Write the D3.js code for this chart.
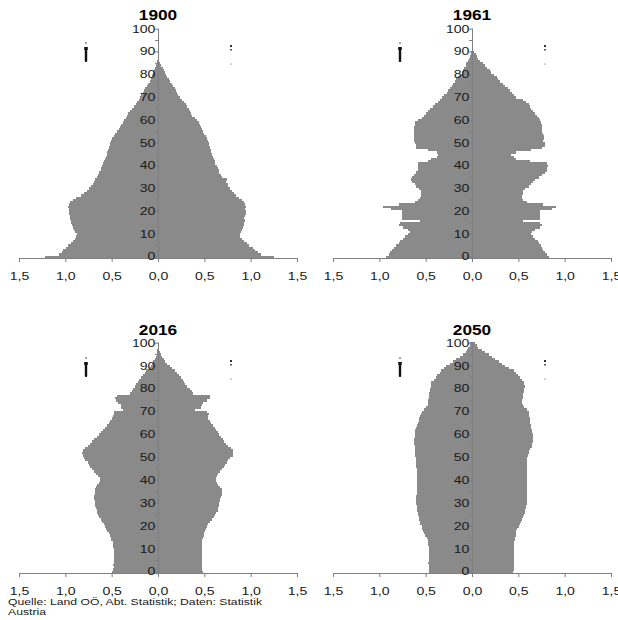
<!DOCTYPE html>
<html lang="de">
<head>
<meta charset="utf-8">
<title>Bevölkerungspyramiden Oberösterreich</title>
<script src="https://d3js.org/d3.v7.min.js"></script>
<style>
  body { margin: 0; background: #fff; }
  svg { display: block; font-family: "Liberation Sans", Arial, sans-serif; }
  .bar { fill: #8a8a8a; shape-rendering: crispEdges; }
  .axis path, .axis line { stroke: #7f7f7f; }
  .axis text { fill: #1a1a1a; font-size: 11px; font-family: "Liberation Sans", Arial, sans-serif; }
  .title { font-size: 15px; font-weight: bold; fill: #000; }
  .source { font-size: 9.6px; fill: #1a1a1a; }
</style>
</head>
<body>
<svg id="chart" width="618" height="620"></svg>
<script>
// Anteil an der Gesamtbevölkerung in %, je Altersjahr 0..100
var years = ["1900", "1961", "2016", "2050"];
var ages = d3.range(0, 101);
var xTicks = [-1.5, -1, -0.5, 0, 0.5, 1, 1.5];
var xTickLabels = ["1,5", "1,0", "0,5", "0,0", "0,5", "1,0", "1,5"];
var yTicks = [0, 5, 10, 15, 20, 25, 30, 35, 40, 45, 50, 55, 60, 65, 70, 75, 80, 85, 90, 95, 100];
var sourceLines = ["Quelle: Land OÖ, Abt. Statistik; Daten: Statistik", "Austria"];

var male1900 = [1.22,1.07,1.04,1.02,0.99,0.97,0.94,0.92,0.90,0.88,
  0.87,0.90,0.91,0.92,0.93,0.94,0.94,0.95,0.95,0.96,
  0.96,0.96,0.97,0.96,0.95,0.92,0.88,0.83,0.80,0.77,
  0.74,0.72,0.70,0.69,0.68,0.66,0.65,0.64,0.62,0.61,
  0.60,0.59,0.58,0.57,0.56,0.55,0.55,0.54,0.53,0.52,
  0.52,0.51,0.50,0.47,0.46,0.44,0.42,0.41,0.40,0.38,
  0.37,0.35,0.33,0.32,0.30,0.28,0.26,0.24,0.23,0.21,
  0.19,0.18,0.16,0.15,0.14,0.12,0.11,0.09,0.08,0.07,
  0.06,0.05,0.04,0.03,0.02,0.015,0.01,0.005,0.003,0.002,
  0.001,0.001,0.001,0.001,0.001,0.001,0.001,0.001,0.001,0.001,0.001];
var female1900 = [1.25,1.11,1.08,1.05,1.02,0.98,0.96,0.93,0.91,0.89,
  0.89,0.90,0.91,0.92,0.93,0.93,0.94,0.93,0.94,0.95,
  0.95,0.94,0.95,0.94,0.93,0.91,0.87,0.84,0.82,0.80,
  0.78,0.76,0.75,0.73,0.74,0.69,0.68,0.66,0.66,0.65,
  0.64,0.62,0.61,0.60,0.59,0.58,0.57,0.57,0.56,0.55,
  0.55,0.54,0.53,0.52,0.50,0.49,0.47,0.46,0.45,0.44,
  0.42,0.40,0.37,0.36,0.35,0.33,0.31,0.30,0.28,0.26,
  0.24,0.22,0.20,0.19,0.18,0.16,0.15,0.13,0.12,0.10,
  0.09,0.075,0.06,0.05,0.03,0.02,0.015,0.01,0.005,0.003,
  0.001,0.001,0.001,0.001,0.001,0.001,0.001,0.001,0.001,0.001,0.001];
var male1961 = [0.93,0.90,0.88,0.86,0.84,0.82,0.79,0.78,0.75,0.72,
  0.69,0.67,0.69,0.74,0.79,0.78,0.56,0.76,0.76,0.76,
  0.76,0.87,0.96,0.79,0.62,0.58,0.56,0.55,0.55,0.55,
  0.57,0.60,0.62,0.65,0.66,0.65,0.63,0.60,0.58,0.58,
  0.58,0.58,0.47,0.44,0.38,0.37,0.38,0.47,0.60,0.60,
  0.62,0.63,0.63,0.63,0.63,0.63,0.63,0.63,0.62,0.62,
  0.58,0.54,0.52,0.50,0.47,0.45,0.42,0.40,0.37,0.35,
  0.32,0.30,0.27,0.26,0.24,0.22,0.20,0.18,0.17,0.15,
  0.13,0.11,0.10,0.09,0.07,0.06,0.04,0.03,0.02,0.015,
  0.008,0.005,0.003,0.002,0.001,0.001,0.001,0.001,0.001,0.001,0.001];
var female1961 = [0.83,0.81,0.79,0.77,0.76,0.74,0.72,0.71,0.68,0.66,
  0.64,0.65,0.68,0.73,0.75,0.73,0.55,0.73,0.73,0.73,
  0.73,0.86,0.91,0.77,0.59,0.55,0.54,0.54,0.55,0.55,
  0.57,0.61,0.64,0.66,0.68,0.72,0.75,0.79,0.81,0.81,
  0.82,0.81,0.63,0.48,0.45,0.42,0.48,0.64,0.75,0.79,
  0.79,0.77,0.78,0.78,0.77,0.76,0.76,0.75,0.75,0.74,
  0.73,0.72,0.70,0.68,0.66,0.64,0.63,0.61,0.58,0.55,
  0.48,0.45,0.43,0.41,0.39,0.36,0.33,0.30,0.28,0.27,
  0.24,0.21,0.19,0.16,0.14,0.12,0.09,0.07,0.05,0.04,
  0.02,0.015,0.01,0.006,0.004,0.002,0.001,0.001,0.001,0.001,0.001];
var male2016 = [0.50,0.49,0.48,0.49,0.48,0.48,0.47,0.47,0.48,0.48,
  0.48,0.49,0.49,0.49,0.51,0.51,0.52,0.53,0.55,0.56,
  0.57,0.58,0.60,0.62,0.64,0.65,0.66,0.66,0.67,0.68,
  0.68,0.68,0.69,0.69,0.68,0.68,0.68,0.67,0.66,0.64,
  0.63,0.63,0.65,0.67,0.69,0.71,0.73,0.75,0.76,0.79,
  0.80,0.81,0.82,0.81,0.79,0.76,0.73,0.71,0.69,0.66,
  0.64,0.61,0.59,0.57,0.55,0.53,0.52,0.50,0.49,0.48,
  0.47,0.38,0.40,0.40,0.43,0.45,0.46,0.44,0.30,0.28,
  0.27,0.25,0.24,0.22,0.20,0.18,0.16,0.14,0.13,0.10,
  0.08,0.065,0.05,0.035,0.025,0.015,0.01,0.006,0.004,0.002,0.001];
var female2016 = [0.49,0.48,0.48,0.47,0.47,0.47,0.47,0.47,0.47,0.48,
  0.47,0.48,0.48,0.48,0.48,0.49,0.50,0.50,0.51,0.52,
  0.53,0.54,0.56,0.58,0.60,0.62,0.63,0.65,0.65,0.66,
  0.66,0.67,0.67,0.68,0.69,0.69,0.69,0.67,0.65,0.64,
  0.63,0.63,0.64,0.65,0.67,0.69,0.71,0.72,0.74,0.76,
  0.78,0.81,0.81,0.81,0.79,0.76,0.73,0.71,0.70,0.68,
  0.66,0.65,0.63,0.61,0.59,0.57,0.56,0.54,0.54,0.55,
  0.53,0.40,0.46,0.48,0.49,0.53,0.56,0.56,0.38,0.37,
  0.34,0.31,0.29,0.28,0.27,0.25,0.23,0.20,0.18,0.15,
  0.13,0.10,0.08,0.06,0.045,0.03,0.02,0.012,0.008,0.005,0.004];
var male2050 = [0.46,0.46,0.46,0.46,0.47,0.46,0.46,0.46,0.46,0.46,
  0.46,0.46,0.47,0.47,0.48,0.49,0.51,0.52,0.53,0.54,
  0.54,0.56,0.56,0.57,0.57,0.58,0.58,0.59,0.59,0.59,
  0.60,0.60,0.60,0.60,0.59,0.59,0.59,0.59,0.59,0.59,
  0.59,0.59,0.59,0.59,0.59,0.59,0.60,0.60,0.60,0.60,
  0.60,0.61,0.61,0.62,0.62,0.62,0.63,0.63,0.63,0.62,
  0.62,0.61,0.61,0.60,0.59,0.58,0.57,0.57,0.56,0.55,
  0.54,0.52,0.50,0.48,0.48,0.47,0.46,0.46,0.46,0.45,
  0.45,0.44,0.44,0.44,0.41,0.39,0.38,0.35,0.33,0.30,
  0.28,0.24,0.20,0.17,0.13,0.10,0.07,0.05,0.04,0.025,0.02];
var female2050 = [0.44,0.45,0.45,0.45,0.45,0.45,0.45,0.45,0.45,0.45,
  0.45,0.45,0.45,0.455,0.46,0.46,0.47,0.47,0.48,0.49,
  0.51,0.52,0.53,0.54,0.55,0.56,0.57,0.57,0.58,0.58,
  0.59,0.59,0.59,0.59,0.59,0.59,0.59,0.59,0.59,0.59,
  0.59,0.59,0.59,0.59,0.59,0.59,0.59,0.59,0.59,0.59,
  0.59,0.60,0.61,0.62,0.63,0.645,0.65,0.66,0.66,0.66,
  0.66,0.65,0.645,0.64,0.64,0.63,0.63,0.63,0.62,0.62,
  0.62,0.59,0.56,0.55,0.54,0.54,0.545,0.55,0.55,0.56,
  0.56,0.57,0.56,0.56,0.54,0.52,0.50,0.48,0.45,0.40,
  0.36,0.32,0.29,0.25,0.22,0.18,0.14,0.11,0.07,0.05,0.03];

var series = [
  [male1900, female1900],
  [male1961, female1961],
  [male2016, female2016],
  [male2050, female2050]
];

var svg = d3.select("#chart");
var sx = 1.28;   // text in the original is stretched horizontally

// four panels: left/right columns, top/bottom rows
var cols = [[19, 297], [333, 611]];
var rows = [[258, 28], [573, 342]];

years.forEach(function(year, i) {
  var xr = cols[i % 2], yr = rows[Math.floor(i / 2)];
  var x = d3.scaleLinear().domain([-1.5, 1.5]).range(xr);
  var y = d3.scaleBand().domain(ages).range(yr).padding(0);
  var g = svg.append("g");
  var male = series[i][0], female = series[i][1];

  g.selectAll(".m").data(male).enter().append("rect")
    .attr("class", "bar m")
    .attr("x", function(d) { return x(-d); })
    .attr("y", function(d, k) { return y(ages[k]); })
    .attr("width", function(d) { return x(0) - x(-d); })
    .attr("height", y.bandwidth() + 0.3);

  g.selectAll(".f").data(female).enter().append("rect")
    .attr("class", "bar f")
    .attr("x", x(0))
    .attr("y", function(d, k) { return y(ages[k]); })
    .attr("width", function(d) { return x(d) - x(0); })
    .attr("height", y.bandwidth() + 0.3);

  var gx = g.append("g")
    .attr("class", "axis")
    .attr("transform", "translate(0," + yr[0] + ")")
    .call(d3.axisBottom(x).tickValues(xTicks)
      .tickFormat(function(d, k) { return xTickLabels[k]; })
      .tickSize(4).tickSizeOuter(0).tickPadding(10));
  gx.selectAll("text").attr("transform", "scale(" + sx + ",1)");

  var gy = g.append("g")
    .attr("class", "axis")
    .attr("transform", "translate(" + x(0) + ",0)")
    .call(d3.axisLeft(y).tickValues(yTicks)
      .tickFormat(function(d) { return d % 10 === 0 ? d : ""; })
      .tickSize(3).tickSizeOuter(0).tickPadding(-1));
  gy.selectAll("text").attr("transform", "scale(" + sx + ",1)");

  g.append("text")
    .attr("class", "title")
    .attr("text-anchor", "middle")
    .attr("transform", "translate(" + x(0) + "," + (yr[0] - 238) + ") scale(1.15,1)")
    .text(year);

  // tiny legend pictograms (Männer left, Frauen right)
  var lx = x(0) - 72, rx = x(0) + 73, ty = yr[0] - 215;
  g.append("circle").attr("cx", lx).attr("cy", ty).attr("r", 0.7).attr("fill", "#000");
  g.append("rect").attr("x", lx - 1.8).attr("y", ty + 4).attr("width", 3.6).attr("height", 3).attr("fill", "#111");
  g.append("rect").attr("x", lx - 1.2).attr("y", ty + 6).attr("width", 2.4).attr("height", 13).attr("rx", 1).attr("fill", "#111");
  g.append("rect").attr("x", rx - 1).attr("y", ty + 2).attr("width", 2).attr("height", 2).attr("fill", "#333");
  g.append("rect").attr("x", rx - 1).attr("y", ty + 6).attr("width", 2).attr("height", 1.5).attr("fill", "#555");
  g.append("circle").attr("cx", rx).attr("cy", ty + 21).attr("r", 0.6).attr("fill", "#444");
});

svg.selectAll(".source").data(sourceLines).enter().append("text")
  .attr("class", "source")
  .attr("transform", function(d, k) { return "translate(8," + (605 + k * 9.8) + ") scale(1.27,1)"; })
  .text(function(d) { return d; });
</script>
</body>
</html>
